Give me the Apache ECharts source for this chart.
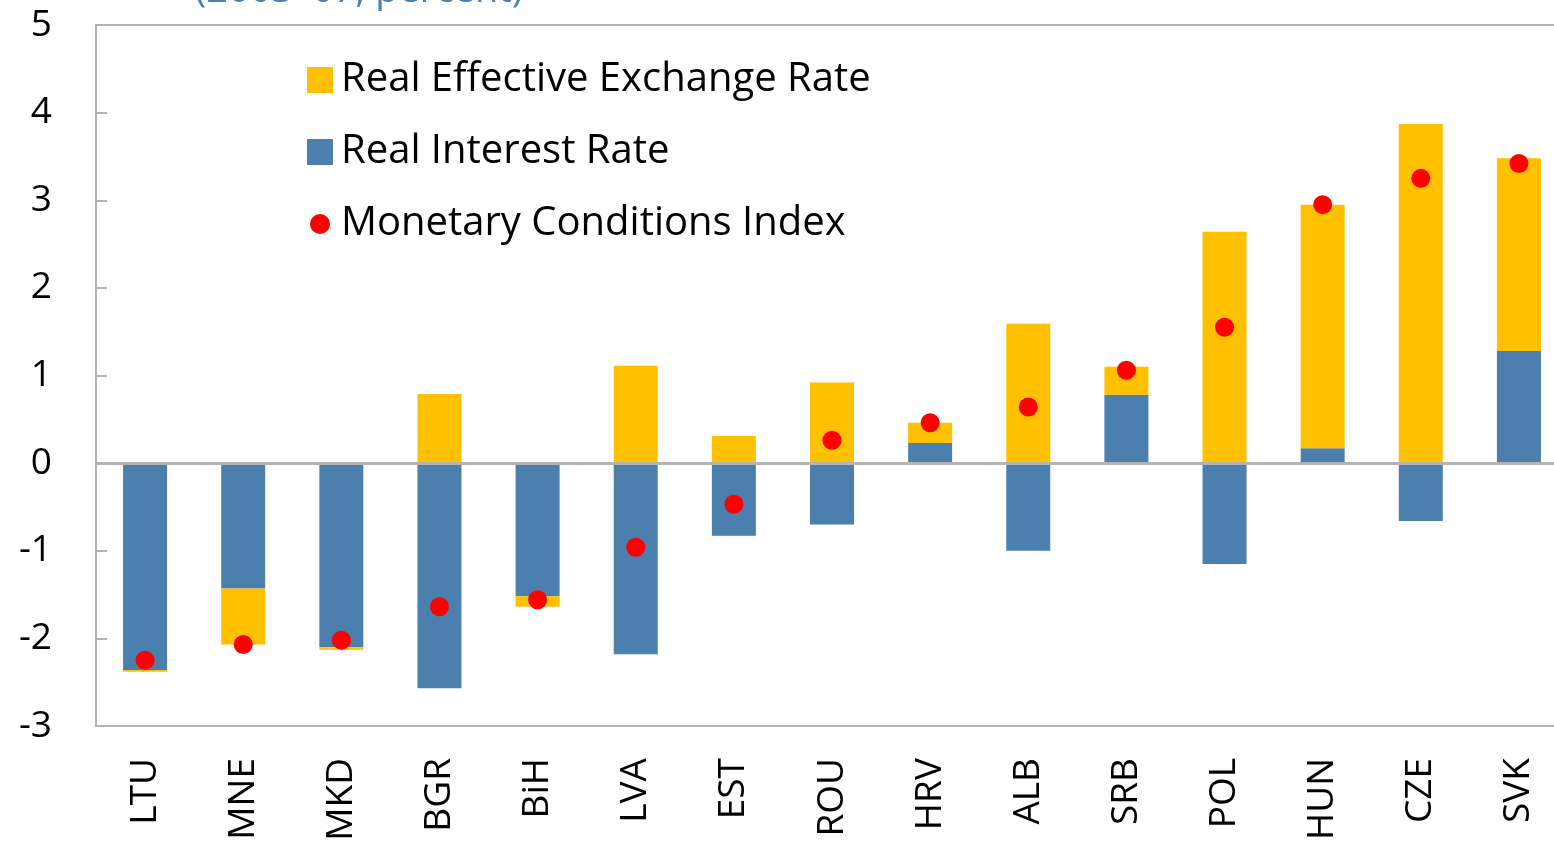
<!DOCTYPE html>
<html lang="en">

<head>
    <meta charset="UTF-8">
    <title>Monetary Conditions Index</title>
    <script src="https://cdn.jsdelivr.net/npm/echarts@6/dist/echarts.min.js"></script>
    <style>
        html, body { margin: 0; padding: 0; background: #fff; overflow: hidden; }
        /* the chart runs a little past the right edge of the window, as in the source */
        #main { width: 1568px; height: 850px; }
    </style>
</head>

<body>
    <div id="main"></div>
    <script>
        // countries along the x axis
        var countries = ['LTU', 'MNE', 'MKD', 'BGR', 'BiH', 'LVA', 'EST', 'ROU', 'HRV', 'ALB', 'SRB', 'POL', 'HUN', 'CZE', 'SVK'];

        // real interest rate contribution (blue)
        var realInterest = [-2.36, -1.43, -2.10, -2.57, -1.52, -2.18, -0.83, -0.70, 0.23, -1.00, 0.78, -1.15, 0.17, -0.66, 1.28];

        // real effective exchange rate contribution (yellow)
        var realExchange = [-0.02, -0.64, -0.03, 0.79, -0.12, 1.11, 0.31, 0.92, 0.23, 1.59, 0.32, 2.64, 2.78, 3.87, 2.20];

        // monetary conditions index (red dots)
        var mciValues = [-2.25, -2.07, -2.02, -1.64, -1.56, -0.96, -0.47, 0.26, 0.46, 0.64, 1.06, 1.55, 2.95, 3.25, 3.42];

        var yTicks = [-3, -2, -1, 0, 1, 2, 3, 4, 5];

        var font = "'Open Sans', 'Noto Sans', sans-serif";
        var gray = '#b4b4b4';

        var chart = echarts.init(document.getElementById('main'));

        var option = {
            backgroundColor: '#fff',
            animation: false,
            title: {
                text: '(2003–07, percent)',
                left: 190,
                top: -33,
                textStyle: {
                    color: '#4a7fae',
                    fontFamily: font,
                    fontSize: 38,
                    fontWeight: 'normal'
                }
            },
            legend: {
                orient: 'vertical',
                left: 302,
                top: 55,
                itemGap: 32,
                itemWidth: 26,
                itemHeight: 26,
                textStyle: {
                    fontFamily: font,
                    fontSize: 40,
                    color: '#000',
                    padding: [0, 0, 0, 3]
                },
                data: [
                    { name: 'Real Effective Exchange Rate', icon: 'rect' },
                    { name: 'Real Interest Rate', icon: 'rect' },
                    // small dot drawn inside a 26x26 box
                    { name: 'Monetary Conditions Index', icon: 'path://M0 0L0 0ZM26 26L26 26ZM3 13A10 10 0 1 0 23 13A10 10 0 1 0 3 13Z' }
                ]
            },
            grid: {
                left: 96,
                top: 25,
                bottom: 124,
                right: 0,
                show: true,
                borderColor: gray,
                borderWidth: 2,
                containLabel: false
            },
            xAxis: {
                type: 'category',
                data: countries,
                axisLine: { onZero: false, lineStyle: { color: gray, width: 2 } },
                axisTick: { show: false },
                axisLabel: {
                    rotate: 90,
                    margin: 32,
                    color: '#000',
                    fontFamily: font,
                    fontSize: 37,
                    interval: 0
                }
            },
            yAxis: {
                type: 'value',
                min: yTicks[0],
                max: yTicks[yTicks.length - 1],
                interval: 1,
                axisLine: { show: true, lineStyle: { color: gray, width: 2 } },
                axisTick: { show: true, inside: true, length: 11, lineStyle: { color: gray, width: 2 } },
                splitLine: { show: false },
                axisLabel: {
                    margin: 44,
                    padding: [8, 0, 0, 0],
                    color: '#000',
                    fontFamily: font,
                    fontSize: 37
                }
            },
            series: [
                {
                    name: 'Real Interest Rate',
                    type: 'bar',
                    stack: 'mci',
                    barWidth: 44,
                    data: realInterest,
                    itemStyle: { color: '#4a7fae' },
                    markLine: {
                        silent: true,
                        symbol: 'none',
                        label: { show: false },
                        lineStyle: { color: gray, width: 3, type: 'solid' },
                        data: [{ yAxis: 0 }]
                    }
                },
                {
                    name: 'Real Effective Exchange Rate',
                    type: 'bar',
                    stack: 'mci',
                    barWidth: 44,
                    data: realExchange,
                    itemStyle: { color: '#ffc000' }
                },
                {
                    name: 'Monetary Conditions Index',
                    type: 'scatter',
                    symbolSize: 19,
                    data: mciValues,
                    itemStyle: { color: '#ff0000', opacity: 1 },
                    z: 5
                }
            ]
        };

        chart.setOption(option);
    </script>
</body>

</html>
